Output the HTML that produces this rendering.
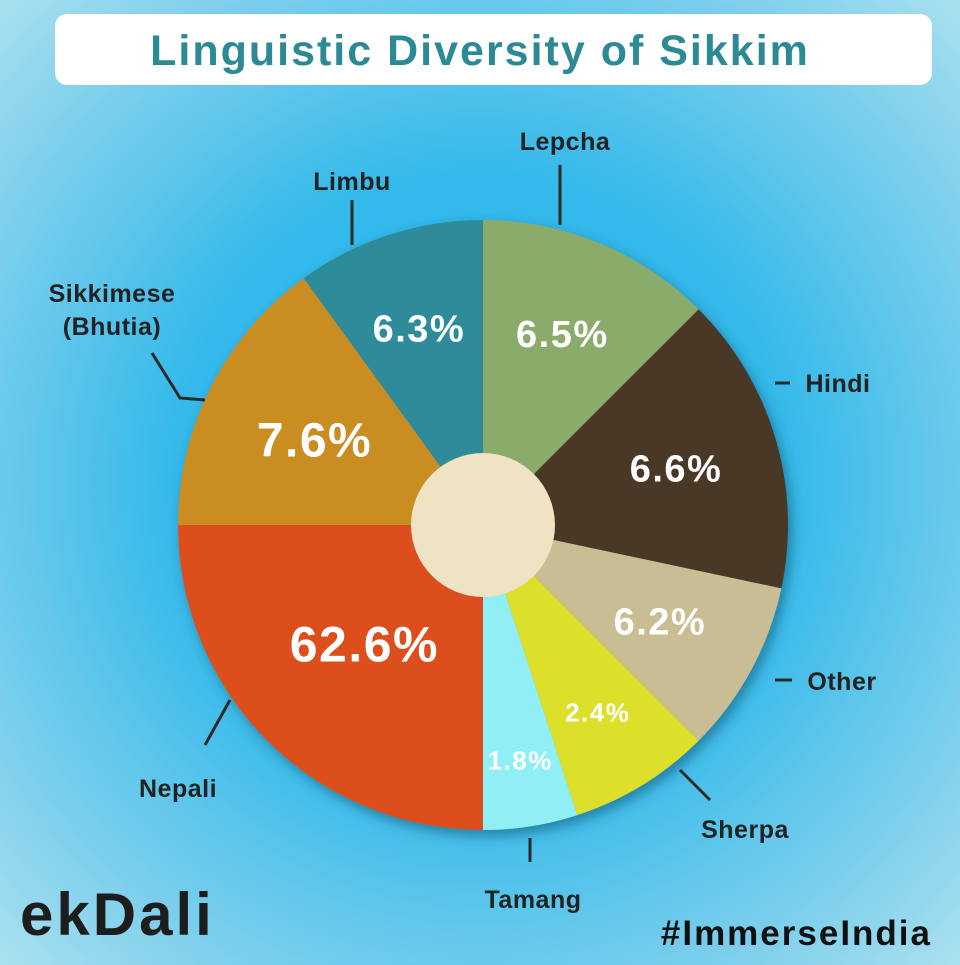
<!DOCTYPE html>
<html><head><meta charset="utf-8"><style>
html,body{margin:0;padding:0}
body{width:960px;height:960px;overflow:hidden;font-family:"Liberation Sans","DejaVu Sans",sans-serif;
background:radial-gradient(circle at 50% 50%,#22b2ea 0%,#34b9ea 45%,#7fd0ec 80%,#a9e0ef 100%)}
</style></head><body>
<svg width="960" height="960" viewBox="0 0 960 960">
<defs><filter id="sh" x="-20%" y="-20%" width="140%" height="140%"><feDropShadow dx="4" dy="6" stdDeviation="6" flood-color="#0a3a55" flood-opacity="0.45"/></filter></defs>
<rect x="55" y="14" width="877" height="71" rx="12" fill="#fff"/>
<text x="480" y="65" text-anchor="middle" font-size="43" font-weight="bold" letter-spacing="2" fill="#2b8a94">Linguistic Diversity of Sikkim</text>
<g id="pie" filter="url(#sh)"></g>
<g id="lines" stroke="#2a2a2a" stroke-width="3" fill="none">
<line x1="560" y1="165" x2="560" y2="225"/>
<line x1="775" y1="383" x2="790" y2="383"/>
<line x1="352" y1="200" x2="352" y2="245"/>
<polyline points="152,353 180,398 205,400"/>
<line x1="775" y1="680" x2="792" y2="680"/>
<line x1="680" y1="770" x2="710" y2="800"/>
<line x1="530" y1="838" x2="530" y2="862"/>
<line x1="230" y1="700" x2="205" y2="745"/>
</g>
<g font-size="25" font-weight="bold" fill="#222" text-anchor="middle" letter-spacing="0.5">
<text x="565" y="150">Lepcha</text>
<text x="838" y="392">Hindi</text>
<text x="352" y="190">Limbu</text>
<text x="112" y="302">Sikkimese</text>
<text x="112" y="335">(Bhutia)</text>
<text x="842" y="690">Other</text>
<text x="745" y="838">Sherpa</text>
<text x="533" y="908">Tamang</text>
<text x="178" y="797">Nepali</text>
</g>
<text x="20" y="935" font-size="60" font-weight="bold" letter-spacing="3" fill="#1d1d1d">ekDali</text>
<text x="932" y="945" text-anchor="end" font-size="35" font-weight="bold" letter-spacing="2" fill="#111">#ImmerseIndia</text>
</svg>
<script>
const categories=["Lepcha","Hindi","Other","Sherpa","Tamang","Nepali","Sikkimese","Limbu"];
const values=[6.5,6.6,6.2,2.4,1.8,62.6,7.6,6.3];
const spanDegrees=[45,57,33,27,18,90,54,36];
const colors=["#8aab6a","#4a3826","#c8bd93","#dde02a","#90eef5","#dc4f1d","#c98d22","#2e8c9a"];
const fontSizes=[38,38,38,26,26,50,48,38];
const labelRadius=[0.68,0.66,0.66,0.72,0.78,0.55,0.62,0.68];
const cx=483,cy=525,R=305,r0=72,NS="http://www.w3.org/2000/svg";
const pie=document.getElementById('pie');
const total=spanDegrees.reduce((a,b)=>a+b,0);
function pt(a,rad){const t=(a-90)*Math.PI/180;return [cx+rad*Math.cos(t),cy+rad*Math.sin(t)];}
let a=0;const labels=[];
categories.forEach((c,i)=>{
 const s=spanDegrees[i]*360/total,a1=a+s;
 const p0=pt(a,R),p1=pt(a1,R);
 const p=document.createElementNS(NS,'path');
 p.setAttribute('d',`M${cx},${cy}L${p0[0]},${p0[1]}A${R},${R} 0 ${s>180?1:0} 1 ${p1[0]},${p1[1]}Z`);
 p.setAttribute('fill',colors[i]);
 
 
 pie.appendChild(p);
 const m=pt(a+s/2,R*labelRadius[i]);
 labels.push([m,i]);a=a1;
});
const hole=document.createElementNS(NS,'circle');
hole.setAttribute('cx',cx);hole.setAttribute('cy',cy);hole.setAttribute('r',r0);hole.setAttribute('fill','#efe3c3');


pie.appendChild(hole);
const svg=document.querySelector('svg');
labels.forEach(([m,i])=>{
 const t=document.createElementNS(NS,'text');
 t.setAttribute('x',m[0]);t.setAttribute('y',m[1]+fontSizes[i]*0.36);
 t.setAttribute('text-anchor','middle');t.setAttribute('font-size',fontSizes[i]);
 t.setAttribute('font-weight','bold');t.setAttribute('fill','#fff');
 t.setAttribute('letter-spacing','1.5');
 t.textContent=values[i]+'%';
 
 
 svg.appendChild(t);
});
</script>
</body></html>
